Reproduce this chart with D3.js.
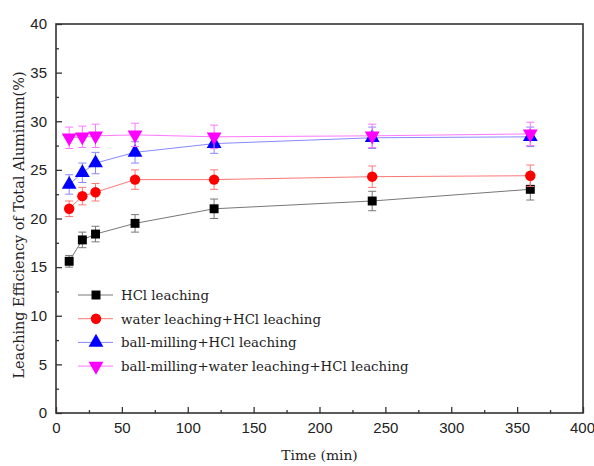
<!DOCTYPE html>
<html>
<head>
<meta charset="utf-8">
<script src="https://cdn.jsdelivr.net/npm/d3@7"></script>
<style>
  body { margin: 0; background: #fff; }
  svg text { fill: #222; }
</style>
</head>
<body>
<div id="chart"></div>
<script>
// data
const times = [10, 20, 30, 60, 120, 240, 360];
const hcl = [15.6, 17.8, 18.4, 19.5, 21.0, 21.8, 23.0];
const hclErr = [0.6, 0.8, 0.8, 0.9, 1.0, 1.0, 1.1];
const water = [21.0, 22.3, 22.7, 24.0, 24.0, 24.3, 24.4];
const waterErr = [0.8, 0.9, 0.9, 1.0, 1.0, 1.1, 1.1];
const ball = [23.5, 24.7, 25.7, 26.8, 27.7, 28.3, 28.4];
const ballErr = [1.0, 1.0, 1.1, 1.1, 1.0, 1.1, 1.0];
const ballWater = [28.3, 28.4, 28.5, 28.6, 28.4, 28.5, 28.7];
const ballWaterErr = [1.1, 1.1, 1.2, 1.2, 1.2, 1.2, 1.2];
const names = ["HCl leaching", "water leaching+HCl leaching", "ball-milling+HCl leaching", "ball-milling+water leaching+HCl leaching"];

const series = [
  {name: names[0], values: hcl, err: hclErr, color: "#000", line: "#777", sym: d3.symbolSquare, size: 80, rot: 0},
  {name: names[1], values: water, err: waterErr, color: "#f00", line: "#f77", sym: d3.symbolCircle, size: 85, rot: 0},
  {name: names[2], values: ball, err: ballErr, color: "#00f", line: "#88f", sym: d3.symbolTriangle, size: 95, rot: 0},
  {name: names[3], values: ballWater, err: ballWaterErr, color: "#f0f", line: "#f7f", sym: d3.symbolTriangle, size: 95, rot: 180}
];

const width = 594, height = 466;
const margin = {left: 56, top: 24, right: 11, bottom: 53};

const svg = d3.select("#chart").append("svg")
    .attr("width", width)
    .attr("height", height);

const x = d3.scaleLinear().domain([0, 400]).range([margin.left, width - margin.right]);
const y = d3.scaleLinear().domain([0, 40]).range([height - margin.bottom, margin.top]);

// lines, error bars, markers
series.forEach(s => {
  const pts = times.map((t, i) => ({t: t, v: s.values[i], e: s.err[i]}));
  const g = svg.append("g");

  g.append("path")
    .datum(pts)
    .attr("fill", "none")
    .attr("stroke", s.line)
    .attr("stroke-width", 1)
    .attr("d", d3.line().x(d => x(d.t)).y(d => y(d.v)));

  const eb = g.selectAll(".err").data(pts).enter().append("g")
    .attr("stroke", s.line).attr("stroke-width", 1);
  eb.append("line")
    .attr("x1", d => x(d.t)).attr("x2", d => x(d.t))
    .attr("y1", d => y(d.v - d.e)).attr("y2", d => y(d.v + d.e));
  eb.append("line")
    .attr("x1", d => x(d.t) - 4).attr("x2", d => x(d.t) + 4)
    .attr("y1", d => y(d.v + d.e)).attr("y2", d => y(d.v + d.e));
  eb.append("line")
    .attr("x1", d => x(d.t) - 4).attr("x2", d => x(d.t) + 4)
    .attr("y1", d => y(d.v - d.e)).attr("y2", d => y(d.v - d.e));

  g.selectAll(".mark").data(pts).enter().append("path")
    .attr("d", d3.symbol().type(s.sym).size(s.size))
    .attr("transform", d => `translate(${x(d.t)},${y(d.v)}) rotate(${s.rot})`)
    .attr("fill", s.color);
});

// axes, ticks pointing inward
const tickFont = "'Liberation Sans', Arial, sans-serif";
const xAxis = svg.append("g")
  .attr("transform", `translate(0,${height - margin.bottom})`)
  .call(d3.axisBottom(x).tickValues(d3.range(0, 401, 50)).tickSizeInner(-6).tickSizeOuter(0).tickPadding(9));
const xMinor = svg.append("g")
  .attr("transform", `translate(0,${height - margin.bottom})`)
  .call(d3.axisBottom(x).tickValues(d3.range(25, 400, 50)).tickSize(-3).tickSizeOuter(0).tickFormat(""));
const yAxis = svg.append("g")
  .attr("transform", `translate(${margin.left},0)`)
  .call(d3.axisLeft(y).tickValues(d3.range(0, 41, 5)).tickSizeInner(-6).tickSizeOuter(0).tickPadding(9));
const yMinor = svg.append("g")
  .attr("transform", `translate(${margin.left},0)`)
  .call(d3.axisLeft(y).tickValues(d3.range(2.5, 40, 5)).tickSize(-3).tickSizeOuter(0).tickFormat(""));

[xAxis, xMinor, yAxis, yMinor].forEach(a => {
  a.select(".domain").remove();
  a.selectAll("line").attr("stroke", "#333").attr("stroke-width", 1.3);
  a.selectAll("text").style("font-family", tickFont).style("font-size", "15px").attr("fill", "#222");
});
// keep the last x label inside the page
xAxis.selectAll(".tick:last-of-type text").attr("dx", "-1px");

// frame
svg.append("rect")
  .attr("x", x(0)).attr("y", y(40))
  .attr("width", x(400) - x(0)).attr("height", y(0) - y(40))
  .attr("fill", "none").attr("stroke", "#333").attr("stroke-width", 1.6);

// titles
const serif = "'DejaVu Serif', serif";
svg.append("text")
  .attr("x", (x(0) + x(400)) / 2).attr("y", 460)
  .attr("text-anchor", "middle")
  .style("font-family", serif).style("font-size", "13.8px")
  .text("Time (min)");
svg.append("text")
  .attr("transform", `translate(24,225) rotate(-90)`)
  .attr("text-anchor", "middle")
  .style("font-family", serif).style("font-size", "14.4px")
  .text("Leaching Efficiency of Total Aluminum(%)");

// legend
const legend = svg.append("g");
series.forEach((s, i) => {
  const ly = 295 + i * 23.7;
  legend.append("line")
    .attr("x1", 78).attr("x2", 113).attr("y1", ly).attr("y2", ly)
    .attr("stroke", s.line).attr("stroke-width", 1);
  legend.append("path")
    .attr("d", d3.symbol().type(s.sym).size(s.size))
    .attr("transform", `translate(96,${ly}) rotate(${s.rot})`)
    .attr("fill", s.color);
  legend.append("text")
    .attr("x", 121).attr("y", ly + 5)
    .style("font-family", serif).style("font-size", "13.35px")
    .text(s.name);
});
</script>
</body>
</html>
